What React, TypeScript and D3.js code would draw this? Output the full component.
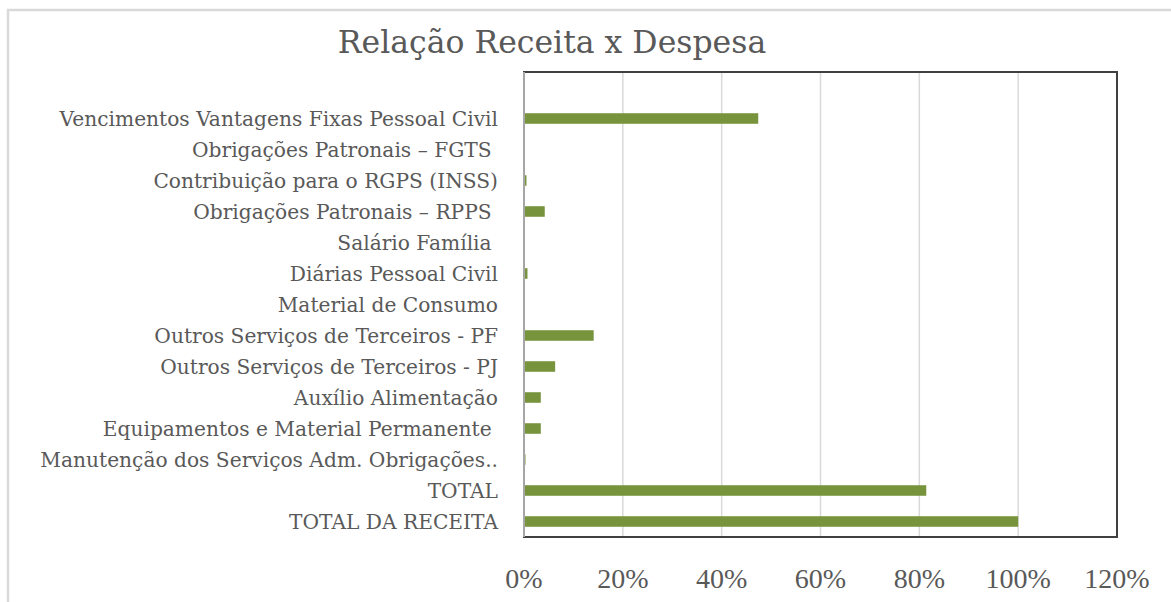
import { useEffect, useRef } from "react";
import * as d3 from "d3";

// chart values
const categories = [
  "",
  "Vencimentos Vantagens Fixas Pessoal Civil",
  "Obrigações Patronais – FGTS ",
  "Contribuição para o RGPS (INSS)",
  "Obrigações Patronais – RPPS ",
  "Salário Família ",
  "Diárias Pessoal Civil",
  "Material de Consumo",
  "Outros Serviços de Terceiros - PF",
  "Outros Serviços de Terceiros - PJ",
  "Auxílio Alimentação",
  "Equipamentos e Material Permanente ",
  "Manutenção dos Serviços Adm. Obrigações..",
  "TOTAL",
  "TOTAL DA RECEITA",
];
const values = [null, 0.474, 0, 0.005, 0.042, 0, 0.007, 0, 0.141, 0.063, 0.034, 0.034, 0.003, 0.814, 1.0];
const xTicks = [0, 0.2, 0.4, 0.6, 0.8, 1.0, 1.2];

const W = 1171;
const H = 602;
const margin = { top: 72, right: 54, bottom: 65, left: 524 };
const grey = "#595959";
const serif = "'Liberation Serif', 'DejaVu Serif', serif";
const wideSerif = "'DejaVu Serif', 'Liberation Serif', serif";

const App = () => {
  const ref = useRef<SVGSVGElement>(null);

  useEffect(() => {
    const svg = d3.select(ref.current);
    svg.selectAll("*").remove();

    const x = d3.scaleLinear().domain([0, 1.2]).range([margin.left, W - margin.right]);
    const y = d3.scaleBand<string>()
      .domain(categories.map((c, i) => i + "|" + c))
      .range([margin.top, H - margin.bottom])
      .paddingInner(0.66)
      .paddingOuter(0.33);

    // outer chart frame
    svg.append("rect")
      .attr("x", 8).attr("y", 10)
      .attr("width", W + 10).attr("height", H + 10)
      .attr("fill", "white")
      .attr("stroke", "#d9d9d9")
      .attr("stroke-width", 2.5);

    // title
    svg.append("text")
      .attr("x", 552).attr("y", 53)
      .attr("text-anchor", "middle")
      .attr("font-family", wideSerif)
      .attr("font-size", 31.5)
      .attr("fill", grey)
      .text("Relação Receita x Despesa");

    // gridlines
    svg.append("g")
      .selectAll("line")
      .data(xTicks.slice(1, -1))
      .join("line")
      .attr("x1", d => x(d)).attr("x2", d => x(d))
      .attr("y1", margin.top).attr("y2", H - margin.bottom)
      .attr("stroke", "#d9d9d9")
      .attr("stroke-width", 1.5);

    // bars
    svg.append("g")
      .selectAll("rect")
      .data(categories.map((c, i) => ({ key: i + "|" + c, v: values[i] })).filter(d => d.v !== null))
      .join("rect")
      .attr("x", x(0))
      .attr("y", d => y(d.key)!)
      .attr("width", d => x(d.v as number) - x(0))
      .attr("height", y.bandwidth())
      .attr("fill", "#77933c");

    // plot border
    svg.append("rect")
      .attr("x", margin.left).attr("y", margin.top)
      .attr("width", W - margin.right - margin.left)
      .attr("height", H - margin.bottom - margin.top)
      .attr("fill", "none")
      .attr("stroke", "#404040")
      .attr("stroke-width", 2);

    // category axis line
    svg.append("line")
      .attr("x1", x(0)).attr("x2", x(0))
      .attr("y1", margin.top).attr("y2", H - margin.bottom)
      .attr("stroke", "#a6a6a6")
      .attr("stroke-width", 2);

    // category labels
    svg.append("g")
      .selectAll("text")
      .data(categories.map((c, i) => ({ key: i + "|" + c, label: c })))
      .join("text")
      .attr("x", 498)
      .attr("y", d => y(d.key)! + y.bandwidth() / 2)
      .attr("dy", "0.35em")
      .attr("text-anchor", "end")
      .attr("font-family", wideSerif)
      .attr("font-size", 20.2)
      .attr("fill", grey)
      .style("white-space", "pre")
      .text(d => d.label);

    // value axis labels
    svg.append("g")
      .selectAll("text")
      .data(xTicks)
      .join("text")
      .attr("x", d => x(d))
      .attr("y", 588)
      .attr("text-anchor", "middle")
      .attr("font-family", serif)
      .attr("font-size", 28)
      .attr("fill", grey)
      .text(d => d3.format(".0%")(d));
  }, []);

  return (
    <svg ref={ref} width={W} height={H}
      style={{ position: "absolute", left: 0, top: 0, display: "block" }} />
  );
};

export default App;
